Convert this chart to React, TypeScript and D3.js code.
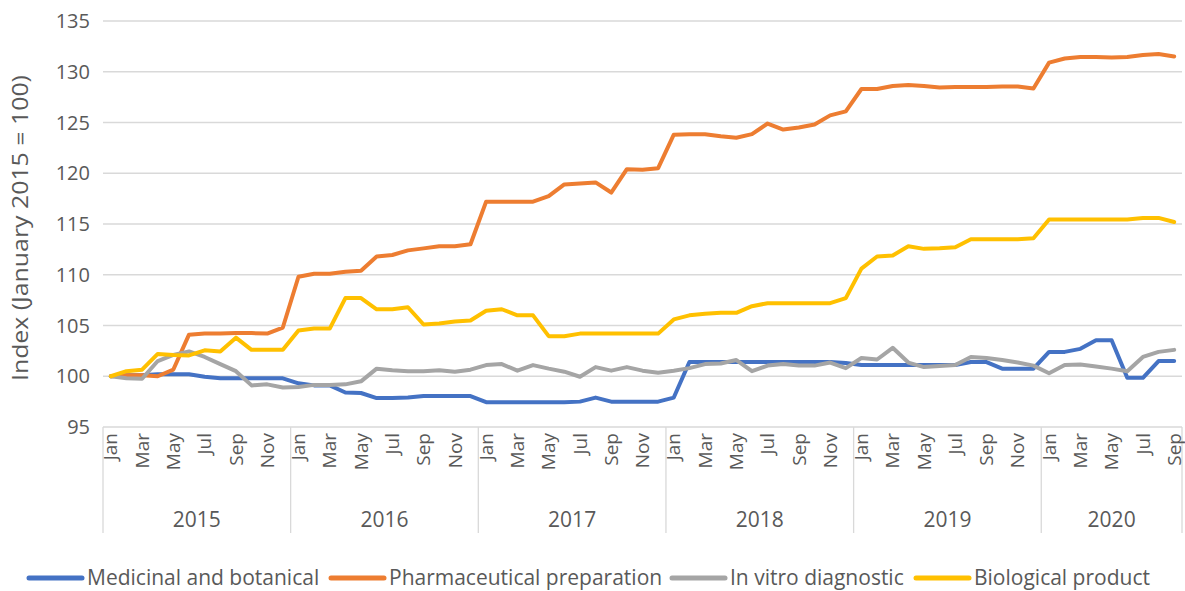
import React, { useRef, useEffect } from "react";
import * as d3 from "d3";

// monthly index, Jan 2015 .. Sep 2020 (Jan 2015 = 100)
const years = ["2015", "2016", "2017", "2018", "2019", "2020"];
const monthNames = ["Jan", "Feb", "Mar", "Apr", "May", "Jun", "Jul", "Aug", "Sep", "Oct", "Nov", "Dec"];
const yTicks = [95, 100, 105, 110, 115, 120, 125, 130, 135];

const medicinal = [
  100, 100.1, 100.1, 100.2, 100.2, 100.2, 99.95, 99.8, 99.8, 99.8, 99.8, 99.8,
  99.3, 99.1, 99.1, 98.4, 98.35, 97.85, 97.85, 97.9, 98.05, 98.05, 98.05, 98.05,
  97.45, 97.45, 97.45, 97.45, 97.45, 97.45, 97.5, 97.9, 97.5, 97.5, 97.5, 97.5,
  97.9, 101.4, 101.4, 101.4, 101.4, 101.4, 101.4, 101.4, 101.4, 101.4, 101.4, 101.3,
  101.1, 101.1, 101.1, 101.1, 101.1, 101.1, 101.1, 101.4, 101.4, 100.75, 100.75, 100.75,
  102.4, 102.4, 102.7, 103.55, 103.55, 99.85, 99.85, 101.5, 101.5,
];
const pharma = [
  100, 100.1, 100.1, 100.0, 100.66, 104.1, 104.2, 104.2, 104.25, 104.25, 104.2, 104.8,
  109.8, 110.1, 110.1, 110.3, 110.4, 111.8, 111.95, 112.4, 112.6, 112.8, 112.8, 113.0,
  117.2, 117.2, 117.2, 117.2, 117.75, 118.9, 119.0, 119.1, 118.1, 120.4, 120.35, 120.5,
  123.8, 123.85, 123.85, 123.65, 123.5, 123.85, 124.9, 124.3, 124.5, 124.8, 125.7, 126.1,
  128.3, 128.3, 128.6, 128.7, 128.6, 128.45, 128.5, 128.5, 128.5, 128.55, 128.55, 128.35,
  130.9, 131.3, 131.45, 131.45, 131.4, 131.45, 131.65, 131.75, 131.5,
];
const invitro = [
  100, 99.8, 99.75, 101.5, 102.1, 102.45, 101.9, 101.2, 100.5, 99.1, 99.2, 98.9,
  98.95, 99.15, 99.15, 99.2, 99.5, 100.75, 100.6, 100.5, 100.5, 100.6, 100.45, 100.65,
  101.1, 101.2, 100.55, 101.1, 100.75, 100.45, 99.95, 100.9, 100.55, 100.9, 100.55, 100.35,
  100.55, 100.8, 101.2, 101.25, 101.6, 100.5, 101.05, 101.2, 101.05, 101.05, 101.35, 100.8,
  101.8, 101.65, 102.8, 101.35, 100.9, 101.0, 101.1, 101.9, 101.8, 101.6, 101.35, 101.05,
  100.3, 101.1, 101.15, 100.95, 100.75, 100.5, 101.9, 102.4, 102.6,
];
const biological = [
  100, 100.5, 100.65, 102.2, 102.1, 102.05, 102.55, 102.45, 103.8, 102.6, 102.6, 102.6,
  104.5, 104.7, 104.7, 107.7, 107.7, 106.6, 106.6, 106.8, 105.1, 105.2, 105.4, 105.5,
  106.45, 106.6, 106.0, 106.0, 103.95, 103.95, 104.2, 104.2, 104.2, 104.2, 104.2, 104.2,
  105.6, 106.0, 106.15, 106.25, 106.25, 106.9, 107.2, 107.2, 107.2, 107.2, 107.2, 107.7,
  110.6, 111.8, 111.9, 112.8, 112.55, 112.6, 112.7, 113.5, 113.5, 113.5, 113.5, 113.6,
  115.45, 115.45, 115.45, 115.45, 115.45, 115.45, 115.6, 115.6, 115.2,
];

const seriesNames = ["Medicinal and botanical", "Pharmaceutical preparation", "In vitro diagnostic", "Biological product"];
const seriesColors = ["#4472C4", "#ED7D31", "#A5A5A5", "#FFC000"];
const seriesValues = [medicinal, pharma, invitro, biological];

const App = () => {
  const ref = useRef<SVGSVGElement>(null);

  useEffect(() => {
    if (!ref.current) return;
    const svg = d3.select(ref.current);
    svg.selectAll("*").remove();

    const margin = { left: 103, right: 3, top: 21, bottom: 164 };
    const width = 1185;
    const height = 591;
    const font = "'Open Sans', 'Noto Sans', sans-serif";
    const textColor = "#595959";
    const gridColor = "#d9d9d9";

    const n = medicinal.length;
    const cats = d3.range(n).map((i) => `${years[Math.floor(i / 12)]}-${monthNames[i % 12]}`);

    const x = d3
      .scaleBand<string>()
      .domain(cats)
      .range([margin.left, width - margin.right])
      .paddingInner(0)
      .paddingOuter(0);
    const y = d3
      .scaleLinear()
      .domain([95, 135])
      .range([height - margin.bottom, margin.top]);

    const g = svg.append("g");

    // gridlines
    g.selectAll(".grid")
      .data(yTicks)
      .join("line")
      .attr("class", "grid")
      .attr("x1", margin.left)
      .attr("x2", width - margin.right)
      .attr("y1", (d) => y(d))
      .attr("y2", (d) => y(d))
      .attr("stroke", gridColor)
      .attr("stroke-width", 1.3);

    // y labels
    g.selectAll(".ylab")
      .data(yTicks)
      .join("text")
      .attr("class", "ylab")
      .attr("x", 90)
      .attr("y", (d) => y(d))
      .attr("dy", "0.35em")
      .attr("text-anchor", "end")
      .attr("font-family", font)
      .attr("font-size", 20)
      .attr("fill", textColor)
      .text((d) => d);

    // y title
    g.append("text")
      .attr("transform", `translate(21, ${y(114.6)}) rotate(-90)`)
      .attr("text-anchor", "middle")
      .attr("dy", "0.35em")
      .attr("font-family", font)
      .attr("font-size", 21)
      .attr("textLength", 306)
      .attr("lengthAdjust", "spacingAndGlyphs")
      .attr("fill", textColor)
      .text("Index (January 2015 = 100)");

    // year separators (multi-level category axis)
    const bottomY = y(95);
    const sepBottom = bottomY + 106;
    const bounds = years.map((_, i) => x(cats[i * 12])!).concat([width - margin.right]);
    g.selectAll(".sep")
      .data(bounds)
      .join("line")
      .attr("class", "sep")
      .attr("x1", (d) => d)
      .attr("x2", (d) => d)
      .attr("y1", bottomY)
      .attr("y2", sepBottom)
      .attr("stroke", gridColor)
      .attr("stroke-width", 1.3);

    // month labels, every second month
    g.selectAll(".mlab")
      .data(cats.filter((_, i) => i % 2 === 0))
      .join("text")
      .attr("class", "mlab")
      .attr("transform", (d) => `translate(${x(d)! + x.bandwidth() / 2}, ${bottomY + 6}) rotate(-90)`)
      .attr("dy", "0.35em")
      .attr("text-anchor", "end")
      .attr("font-family", font)
      .attr("font-size", 19)
      .attr("fill", textColor)
      .text((d) => d.split("-")[1]);

    // year labels
    g.selectAll(".yrlab")
      .data(years)
      .join("text")
      .attr("class", "yrlab")
      .attr("x", (_, i) => (bounds[i] + bounds[i + 1]) / 2)
      .attr("y", bottomY + 100)
      .attr("text-anchor", "middle")
      .attr("font-family", font)
      .attr("font-size", 21)
      .attr("fill", textColor)
      .text((d) => d);

    // lines
    const line = d3
      .line<number>()
      .x((_, i) => x(cats[i])! + x.bandwidth() / 2)
      .y((d) => y(d));

    seriesValues.forEach((vals, k) => {
      g.append("path")
        .datum(vals)
        .attr("fill", "none")
        .attr("stroke", seriesColors[k])
        .attr("stroke-width", 4)
        .attr("stroke-linejoin", "round")
        .attr("stroke-linecap", "round")
        .attr("d", line);
    });

    // legend
    const legendX = [29, 331, 672, 916];
    const legendY = 578;
    const lg = g
      .selectAll(".legend")
      .data(seriesNames)
      .join("g")
      .attr("class", "legend")
      .attr("transform", (_, i) => `translate(${legendX[i]}, ${legendY})`);
    lg.append("line")
      .attr("x1", 0)
      .attr("x2", 53)
      .attr("y1", 0)
      .attr("y2", 0)
      .attr("stroke", (_, i) => seriesColors[i])
      .attr("stroke-width", 5)
      .attr("stroke-linecap", "round");
    lg.append("text")
      .attr("x", 58)
      .attr("y", 0)
      .attr("dy", "0.35em")
      .attr("font-family", font)
      .attr("font-size", 21)
      .attr("fill", textColor)
      .text((d) => d);
  }, []);

  return (
    <svg
      ref={ref}
      width={1185}
      height={591}
      style={{ position: "absolute", left: 0, top: 0, background: "#fff" }}
    />
  );
};

export default App;
